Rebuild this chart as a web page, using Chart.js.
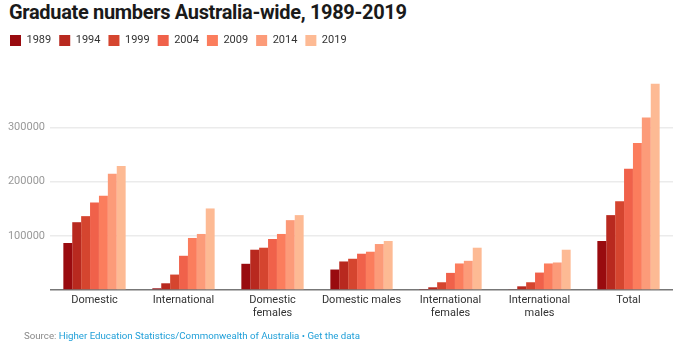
<!DOCTYPE html>
<html>
<head>
<meta charset="utf-8">
<script src="https://cdn.jsdelivr.net/npm/chart.js@4/dist/chart.umd.min.js"></script>
<style>
  html, body { margin: 0; padding: 0; background: #fff; }
  body { width: 680px; height: 355px; position: relative; overflow: hidden; font-family: Roboto, "Noto Sans", sans-serif; }
  #title { position: absolute; left: 9px; top: 0px; font-size: 20px; line-height: 24px; font-weight: 700; color: #1a1a1a; letter-spacing: -0.33px; white-space: nowrap; }
  #source { position: absolute; left: 24px; top: 329px; font-size: 9.7px; line-height: 14px; color: #888; white-space: nowrap; }
  #source span { color: #1f9fd8; }
  canvas { position: absolute; left: 0; top: 0; }
</style>
</head>
<body>
<div id="title">Graduate numbers Australia-wide, 1989-2019</div>
<canvas id="c" width="680" height="355"></canvas>
<div id="source">Source: <span>Higher Education Statistics/Commonwealth of Australia • Get the data</span></div>
<script>
const categories = [["Domestic"], ["International"], ["Domestic", "females"], ["Domestic males"], ["International", "females"], ["International", "males"], ["Total"]];
const years = ["1989", "1994", "1999", "2004", "2009", "2014", "2019"];
const colors = ["#990b0f", "#b8291f", "#d5452f", "#f0614a", "#fb7d5d", "#fc9b79", "#fdba94"];

const v1989 = [86800, 3100, 48400, 37800, 1900, 1200, 90500];
const v1994 = [125200, 12400, 74400, 52700, 5000, 6800, 138300];
const v1999 = [136400, 28500, 78100, 57700, 14300, 14300, 163700];
const v2004 = [161800, 63200, 94200, 67000, 31600, 32200, 223800];
const v2009 = [174200, 96100, 103500, 70700, 49000, 49000, 271500];
const v2014 = [214500, 103500, 129000, 84900, 53900, 50800, 318700];
const v2019 = [228800, 150600, 138300, 90500, 78100, 74400, 380700];
const seriesValues = [v1989, v1994, v1999, v2004, v2009, v2014, v2019];

const yTicks = [0, 100000, 200000, 300000];

const legendSpacer = {
  id: 'legendSpacer',
  beforeInit(chart) {
    const origFit = chart.legend.fit;
    chart.legend.fit = function () {
      origFit.call(this);
      this.height += 25;
    };
  }
};

new Chart(document.getElementById('c'), {
  type: 'bar',
  data: {
    labels: categories,
    datasets: years.map((y, i) => ({
      label: y,
      data: seriesValues[i],
      backgroundColor: colors[i],
      borderWidth: 0,
      categoryPercentage: 0.7,
      barPercentage: 1.0
    }))
  },
  plugins: [legendSpacer],
  options: {
    responsive: false,
    animation: false,
    devicePixelRatio: 1,
    layout: { padding: { top: 27, left: 2, right: 7, bottom: 31.5 } },
    plugins: {
      legend: {
        position: 'top',
        align: 'start',
        labels: {
          boxWidth: 11,
          boxHeight: 11,
          padding: 8,
          color: '#333',
          font: { family: 'Roboto', size: 11 }
        }
      },
      tooltip: { enabled: false }
    },
    scales: {
      x: {
        grid: { display: false, drawTicks: false },
        border: { display: false },
        ticks: {
          color: '#333',
          padding: 3,
          maxRotation: 0,
          autoSkip: false,
          font: { family: 'Roboto', size: 11, lineHeight: 1.25 }
        }
      },
      y: {
        min: 0,
        max: 386000,
        afterFit(scale) { scale.width = 48; },
        afterBuildTicks(scale) { scale.ticks = yTicks.map(v => ({ value: v })); },
        border: { display: false },
        grid: {
          drawTicks: false,
          color: (ctx) => (ctx.tick && ctx.tick.value === 0) ? '#777' : '#ebebeb',
          lineWidth: 1.5
        },
        ticks: {
          color: '#999',
          padding: 5,
          font: { family: 'Roboto', size: 11 },
          callback: (v) => (v === 0 ? '' : String(v))
        }
      }
    }
  }
});
</script>
</body>
</html>
